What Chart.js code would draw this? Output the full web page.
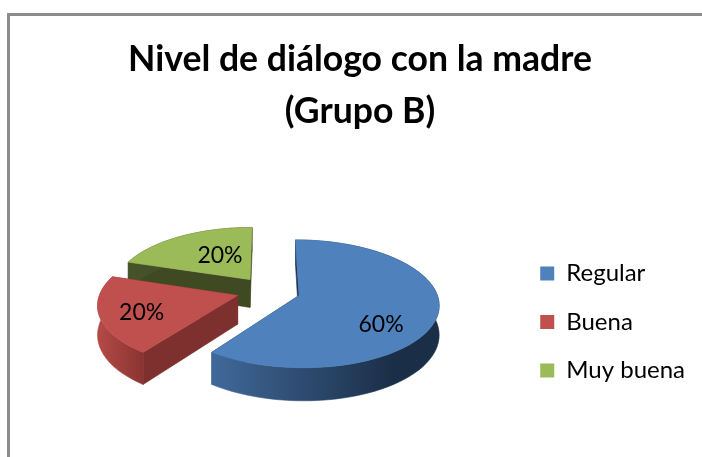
<!DOCTYPE html>
<html><head><meta charset="utf-8">
<style>
html,body{margin:0;padding:0;background:#fff;overflow:hidden;width:702px;height:457px}
#frame{position:absolute;left:7px;top:13px;width:703px;height:444px;border-left:3px solid #8c8c8c;border-top:3px solid #8c8c8c;overflow:hidden}
canvas{display:block}
</style>
<script src="https://cdn.jsdelivr.net/npm/chart.js@4"></script>
</head><body>
<div id="frame"><canvas id="c" width="700" height="441"></canvas></div>
<script>
const categories = ["Regular", "Buena", "Muy buena"];
const shares = [60, 20, 20];
const sliceColors = ["#4F81BD", "#C0504D", "#9BBB59"];
const titleLines = ["Nivel de diálogo con la madre", "(Grupo B)"];

const FONT = "Lato";
const TILT = 0.45, PERSP = 0.000945, DEPTH = 28.5;
const ORIGIN = {dx: -2, dy: -31};
const EXPLODE = 32;
const wallStyle = [
  {edge: "#1F3552", outer: ["#40699A", "#1B2E47"]},
  {edge: "#7D302E", outer: ["#B54A46", "#8A3431"]},
  {edge: "#3F4A22", outer: ["#46532A", "#3F4A22"]}
];
const labelShift = [[82, 29], [-96, 17], [-30, -24]];

const pie3d = {
  id: "pie3d",
  beforeDatasetsDraw(chart) {
    const ctx = chart.ctx;
    const arcs = chart.getDatasetMeta(0).data;
    const items = arcs.map((arc, i) => {
      const mid = (arc.startAngle + arc.endAngle) / 2;
      const off = arc.options.offset;
      return {arc, i, mid, ou: Math.cos(mid) * off, ov: Math.sin(mid) * off};
    }).sort((a, b) => a.ov - b.ov);

    const proj = (arc, u, v, h) => {
      const f = 1 / (1 - PERSP * v);
      return [arc.x + ORIGIN.dx + u * f, arc.y + ORIGIN.dy + v * TILT * f + h * f];
    };
    const poly = (pts, fill) => {
      ctx.beginPath();
      pts.forEach((p, n) => n ? ctx.lineTo(p[0], p[1]) : ctx.moveTo(p[0], p[1]));
      ctx.closePath();
      ctx.fillStyle = fill;
      ctx.strokeStyle = fill;
      ctx.lineWidth = 0.6;
      ctx.fill();
      ctx.stroke();
    };

    ctx.save();
    items.forEach(it => {
      const {arc, i, ou, ov} = it;
      const R = arc.outerRadius;
      const st = wallStyle[i];
      const steps = 72;
      const rim = [];
      for (let s = 0; s <= steps; s++) {
        const a = arc.startAngle + (arc.endAngle - arc.startAngle) * s / steps;
        rim.push([ou + Math.cos(a) * R, ov + Math.sin(a) * R]);
      }
      const P = (q, h) => proj(arc, q[0], q[1], h);
      const apex = [ou, ov];
      poly([P(apex, 0), P(rim[0], 0), P(rim[0], DEPTH), P(apex, DEPTH)], st.edge);
      poly([P(apex, 0), P(rim[steps], 0), P(rim[steps], DEPTH), P(apex, DEPTH)], st.edge);
      const xs = rim.map(q => P(q, 0)[0]);
      const g = ctx.createLinearGradient(Math.min(...xs), 0, Math.max(...xs), 0);
      g.addColorStop(0, st.outer[0]);
      g.addColorStop(i === 0 ? 0.8 : 1, st.outer[1]);
      g.addColorStop(1, st.outer[1]);
      poly(rim.map(q => P(q, 0)).concat(rim.slice().reverse().map(q => P(q, DEPTH))), g);
      poly([P(apex, 0)].concat(rim.map(q => P(q, 0))), arc.options.backgroundColor);
    });
    const total = shares.reduce((a, b) => a + b, 0);
    ctx.font = "23px " + FONT;
    ctx.fillStyle = "#000";
    ctx.textAlign = "center";
    ctx.textBaseline = "middle";
    items.forEach(it => {
      const p = proj(it.arc, it.ou, it.ov, 0);
      const sh = labelShift[it.i];
      ctx.fillText(Math.round(shares[it.i] / total * 100) + "%", p[0] + sh[0], p[1] + sh[1]);
    });
    ctx.restore();
    return false;
  }
};

new Chart(document.getElementById("c"), {
  type: "pie",
  data: {
    labels: categories,
    datasets: [{data: shares, backgroundColor: sliceColors, borderWidth: 0, offset: EXPLODE}]
  },
  options: {
    responsive: false,
    animation: false,
    radius: 137,
    layout: {padding: {left: 15, right: 15, top: 0, bottom: 0}},
    plugins: {
      tooltip: {enabled: false},
      title: {
        display: true,
        text: titleLines,
        color: "#000",
        font: {family: FONT, size: 35.6, weight: "bold", lineHeight: 1.46},
        padding: {top: 18, bottom: 49}
      },
      legend: {
        position: "right",
        fullSize: false,
        labels: {
          boxWidth: 14, boxHeight: 14, padding: 24.5, color: "#000",
          font: {family: FONT, size: 24}
        }
      }
    }
  },
  plugins: [pie3d]
});
</script>
</body></html>
